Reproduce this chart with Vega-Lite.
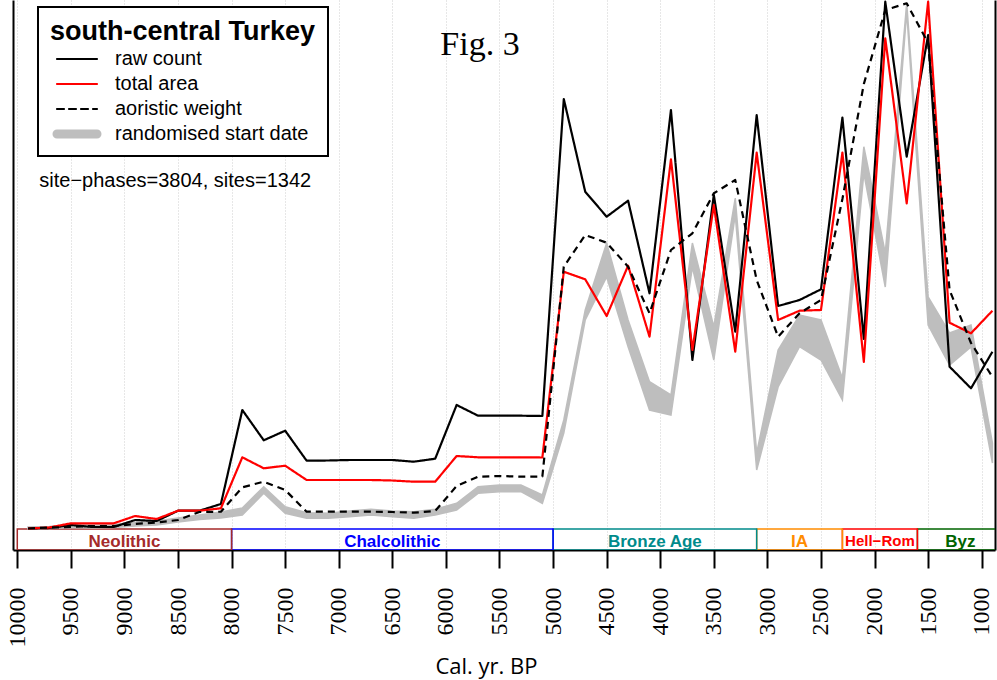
{
  "$schema": "https://vega.github.io/schema/vega-lite/v6.json",
  "width": 982,
  "height": 550,
  "autosize": "none",
  "padding": {"left": 13, "top": 0, "right": 2, "bottom": 130},
  "background": "white",
  "config": {
    "view": {"stroke": null},
    "axisX": {
      "domain": true, "domainColor": "black", "domainWidth": 2,
      "ticks": true, "tickColor": "black", "tickWidth": 2, "tickSize": 18,
      "labelAngle": 270, "labelAlign": "right", "labelBaseline": "middle",
      "labelFont": "Liberation Sans Narrow", "labelFontSize": 24, "labelColor": "black",
      "labelPadding": 19, "labelOverlap": false, "labelFlush": false, "format": "d",
      "grid": true, "gridColor": "#cfcfcf", "gridDash": [1, 2], "gridWidth": 1,
      "titleFont": "Open Sans", "titleFontSize": 22, "titleFontWeight": "normal", "titleColor": "black",
      "titleX": 473, "titleY": 123, "titleBaseline": "alphabetic",
      "zindex": 1
    },
    "axisY": {
      "domain": true, "domainColor": "black", "domainWidth": 2,
      "ticks": false, "labels": false, "grid": false, "zindex": 1
    },
    "legend": {
      "orient": "none", "legendX": 25, "legendY": 7,
      "strokeColor": "black", "fillColor": "white", "strokeWidth": 2,
      "padding": 12,
      "titleFont": "Liberation Sans", "titleFontSize": 27, "titleFontWeight": "bold", "titleColor": "black",
      "titlePadding": 3, "titleLimit": 500,
      "labelFont": "Liberation Sans", "labelFontSize": 20, "labelColor": "black",
      "labelOffset": 28, "labelLimit": 500,
      "symbolType": "M-4,0H4", "symbolSize": 100, "symbolOffset": 17, "rowPadding": 5
    }
  },
  "datasets": {
    "d": [
      {"year": 9900, "raw count": 0.5, "total area": 0.5, "aoristic weight": 0.5, "lo": 0, "hi": 2},
      {"year": 9700, "raw count": 1, "total area": 1.5, "aoristic weight": 1.5, "lo": 0.5, "hi": 2.5},
      {"year": 9500, "raw count": 4, "total area": 5.7, "aoristic weight": 2, "lo": 1.5, "hi": 4.5},
      {"year": 9300, "raw count": 2, "total area": 5.7, "aoristic weight": 3, "lo": 1, "hi": 4},
      {"year": 9100, "raw count": 2, "total area": 5.7, "aoristic weight": 3, "lo": 1.5, "hi": 4.5},
      {"year": 8900, "raw count": 9, "total area": 13, "aoristic weight": 5, "lo": 3, "hi": 6.5},
      {"year": 8700, "raw count": 8, "total area": 10, "aoristic weight": 6.5, "lo": 4, "hi": 8},
      {"year": 8500, "raw count": 18.3, "total area": 18.3, "aoristic weight": 9, "lo": 7, "hi": 11},
      {"year": 8300, "raw count": 18.3, "total area": 18.3, "aoristic weight": 17, "lo": 9.5, "hi": 14},
      {"year": 8100, "raw count": 25, "total area": 20.7, "aoristic weight": 17.3, "lo": 11, "hi": 17},
      {"year": 7900, "raw count": 119, "total area": 71.7, "aoristic weight": 41.7, "lo": 14, "hi": 21},
      {"year": 7700, "raw count": 88.7, "total area": 60.7, "aoristic weight": 47.3, "lo": 35.7, "hi": 42.3},
      {"year": 7500, "raw count": 98.3, "total area": 63.3, "aoristic weight": 39, "lo": 15.7, "hi": 22.3},
      {"year": 7300, "raw count": 68.3, "total area": 49, "aoristic weight": 17.3, "lo": 10.7, "hi": 16.3},
      {"year": 7100, "raw count": 68.5, "total area": 49, "aoristic weight": 17.3, "lo": 10.7, "hi": 15.7},
      {"year": 6900, "raw count": 69, "total area": 49, "aoristic weight": 17.3, "lo": 12.3, "hi": 18},
      {"year": 6700, "raw count": 69, "total area": 49, "aoristic weight": 17.3, "lo": 14, "hi": 19.7},
      {"year": 6500, "raw count": 69, "total area": 48.5, "aoristic weight": 17, "lo": 12.3, "hi": 18},
      {"year": 6300, "raw count": 67.3, "total area": 47.3, "aoristic weight": 16.3, "lo": 10.7, "hi": 17.3},
      {"year": 6100, "raw count": 70.3, "total area": 47.3, "aoristic weight": 18, "lo": 14, "hi": 19.7},
      {"year": 5900, "raw count": 124, "total area": 73, "aoristic weight": 43, "lo": 19, "hi": 25.7},
      {"year": 5700, "raw count": 113.3, "total area": 71.7, "aoristic weight": 52.3, "lo": 35.7, "hi": 42.3},
      {"year": 5500, "raw count": 113.3, "total area": 71.7, "aoristic weight": 53, "lo": 37.3, "hi": 44},
      {"year": 5300, "raw count": 113.3, "total area": 71.7, "aoristic weight": 52.3, "lo": 37.3, "hi": 44},
      {"year": 5100, "raw count": 113, "total area": 71.5, "aoristic weight": 52.5, "lo": 25.7, "hi": 34},
      {"year": 4900, "raw count": 430, "total area": 257.3, "aoristic weight": 262.3, "lo": 96, "hi": 109},
      {"year": 4700, "raw count": 337.3, "total area": 249.7, "aoristic weight": 294, "lo": 209, "hi": 219},
      {"year": 4500, "raw count": 312.3, "total area": 213, "aoristic weight": 286.3, "lo": 252, "hi": 286},
      {"year": 4300, "raw count": 328.3, "total area": 263.3, "aoristic weight": 262.3, "lo": 182.3, "hi": 209},
      {"year": 4100, "raw count": 235.7, "total area": 192.3, "aoristic weight": 215.7, "lo": 119, "hi": 147.3},
      {"year": 3900, "raw count": 419, "total area": 369.7, "aoristic weight": 279, "lo": 114, "hi": 134},
      {"year": 3700, "raw count": 169, "total area": 179, "aoristic weight": 295.7, "lo": 262, "hi": 286},
      {"year": 3500, "raw count": 334, "total area": 324, "aoristic weight": 335.7, "lo": 169, "hi": 202.3},
      {"year": 3300, "raw count": 197.3, "total area": 177.3, "aoristic weight": 349, "lo": 314, "hi": 331},
      {"year": 3100, "raw count": 414, "total area": 376.3, "aoristic weight": 249, "lo": 59, "hi": 76},
      {"year": 2900, "raw count": 223, "total area": 209, "aoristic weight": 192.3, "lo": 142, "hi": 179},
      {"year": 2700, "raw count": 229, "total area": 218.3, "aoristic weight": 215.7, "lo": 182.3, "hi": 214},
      {"year": 2500, "raw count": 239.7, "total area": 219, "aoristic weight": 229, "lo": 169, "hi": 209},
      {"year": 2300, "raw count": 411.5, "total area": 376.5, "aoristic weight": 330, "lo": 129, "hi": 151},
      {"year": 2100, "raw count": 190, "total area": 167, "aoristic weight": 445, "lo": 355.7, "hi": 382.3},
      {"year": 1900, "raw count": 527.3, "total area": 490.7, "aoristic weight": 519, "lo": 242, "hi": 276},
      {"year": 1700, "raw count": 372.3, "total area": 325.7, "aoristic weight": 525.7, "lo": 517, "hi": 526},
      {"year": 1500, "raw count": 494, "total area": 527.3, "aoristic weight": 486, "lo": 204, "hi": 232},
      {"year": 1300, "raw count": 162.3, "total area": 206.3, "aoristic weight": 239, "lo": 164, "hi": 196},
      {"year": 1100, "raw count": 140.7, "total area": 195.7, "aoristic weight": 186, "lo": 182, "hi": 204},
      {"year": 900, "raw count": 177.3, "total area": 218.3, "aoristic weight": 152, "lo": 66, "hi": 86}
    ],
    "periods": [
      {"period": "Byz", "start": 1600, "end": 800},
      {"period": "Hell−Rom", "start": 2300, "end": 1600},
      {"period": "IA", "start": 3100, "end": 2300},
      {"period": "Bronze Age", "start": 5000, "end": 3100},
      {"period": "Chalcolithic", "start": 8000, "end": 5000},
      {"period": "Neolithic", "start": 10000, "end": 8000}
    ],
    "fig": [{"text": "Fig. 3", "year": 5682, "value": 474}],
    "info": [{"text": "site−phases=3804, sites=1342", "year": 9795, "value": 348}]
  },
  "layer": [
    {
      "data": {"name": "periods"},
      "mark": {"type": "rect", "filled": false, "strokeWidth": 1.5, "clip": true},
      "encoding": {
        "x": {"field": "start", "type": "quantitative", "scale": {"domain": [876, 10040], "reverse": true, "nice": false, "zero": false}, "title": "Cal. yr. BP",
              "axis": {"values": [10000, 9500, 9000, 8500, 8000, 7500, 7000, 6500, 6000, 5500, 5000, 4500, 4000, 3500, 3000, 2500, 2000, 1500, 1000]}},
        "x2": {"field": "end"},
        "y": {"datum": 0, "type": "quantitative", "scale": {"domain": [-21, 529], "nice": false, "zero": false}, "title": null, "axis": {"orient": "left"}},
        "y2": {"datum": -21},
        "stroke": {"field": "period", "type": "nominal",
                   "scale": {"domain": ["Neolithic", "Chalcolithic", "Bronze Age", "IA", "Hell−Rom", "Byz"], "range": ["#a52a2a", "#0000ff", "#008b8b", "#ff8c00", "#ff0000", "#006400"]},
                   "legend": null}
      }
    },
    {
      "data": {"name": "d"},
      "mark": {"type": "area", "fill": "#bebebe", "stroke": "#bebebe", "strokeWidth": 1.5, "clip": true},
      "encoding": {
        "x": {"field": "year", "type": "quantitative", "scale": {"domain": [876, 10040], "reverse": true, "nice": false, "zero": false}, "title": "Cal. yr. BP"},
        "y": {"field": "lo", "type": "quantitative", "scale": {"domain": [-21, 529], "nice": false, "zero": false}, "title": null, "axis": {"orient": "right"}},
        "y2": {"field": "hi"}
      }
    },
    {
      "data": {"name": "d"},
      "transform": [{"fold": ["raw count", "total area", "aoristic weight"], "as": ["series", "value"]}],
      "mark": {"type": "line", "clip": true, "strokeJoin": "round"},
      "encoding": {
        "x": {"field": "year", "type": "quantitative", "scale": {"domain": [876, 10040], "reverse": true, "nice": false, "zero": false}, "title": "Cal. yr. BP"},
        "y": {"field": "value", "type": "quantitative", "scale": {"domain": [-21, 529], "nice": false, "zero": false}, "title": null, "axis": null},
        "color": {"field": "series", "type": "nominal", "title": "south-central Turkey",
                  "scale": {"domain": ["raw count", "total area", "aoristic weight", "randomised start date"], "range": ["#000000", "#ff0000", "#000000", "#bebebe"]},
                  "legend": {"encode": {"symbols": {"update": {"strokeJoin": {"value": "round"}, "strokeCap": {"value": "round"}}}}}},
        "strokeDash": {"field": "series", "type": "nominal", "title": "south-central Turkey",
                       "scale": {"domain": ["raw count", "total area", "aoristic weight", "randomised start date"], "range": [[1, 0], [1, 0], [7, 5], [1, 0]]},
                       "legend": {"encode": {"symbols": {"update": {"strokeJoin": {"value": "round"}, "strokeCap": {"value": "round"}}}}}},
        "strokeWidth": {"field": "series", "type": "nominal", "title": "south-central Turkey",
                        "scale": {"type": "ordinal", "domain": ["raw count", "total area", "aoristic weight", "randomised start date"], "range": [2.2, 2.2, 2.2, 9]},
                        "legend": {"encode": {"symbols": {"update": {"strokeJoin": {"value": "round"}, "strokeCap": {"value": "round"}}}}}}
      }
    },
    {
      "data": {"name": "periods"},
      "transform": [{"filter": "datum.period != 'Hell−Rom'"}, {"calculate": "(datum.start + datum.end) / 2", "as": "mid"}],
      "mark": {"type": "text", "font": "Liberation Sans", "fontSize": 17, "fontWeight": "bold", "align": "center", "baseline": "alphabetic"},
      "encoding": {
        "x": {"field": "mid", "type": "quantitative", "scale": {"domain": [876, 10040], "reverse": true, "nice": false, "zero": false}, "title": "Cal. yr. BP"},
        "y": {"datum": -18, "type": "quantitative", "scale": {"domain": [-21, 529], "nice": false, "zero": false}, "axis": null},
        "text": {"field": "period"},
        "fill": {"field": "period", "type": "nominal",
                 "scale": {"domain": ["Neolithic", "Chalcolithic", "Bronze Age", "IA", "Hell−Rom", "Byz"], "range": ["#a52a2a", "#0000ff", "#008b8b", "#ff8c00", "#ff0000", "#006400"]},
                 "legend": null}
      }
    },
    {
      "data": {"name": "periods"},
      "transform": [{"filter": "datum.period == 'Hell−Rom'"}, {"calculate": "(datum.start + datum.end) / 2", "as": "mid"}],
      "mark": {"type": "text", "font": "Liberation Sans", "fontSize": 15, "fontWeight": "bold", "align": "center", "baseline": "alphabetic"},
      "encoding": {
        "x": {"field": "mid", "type": "quantitative", "scale": {"domain": [876, 10040], "reverse": true, "nice": false, "zero": false}, "title": "Cal. yr. BP"},
        "y": {"datum": -17, "type": "quantitative", "scale": {"domain": [-21, 529], "nice": false, "zero": false}, "axis": null},
        "text": {"field": "period"},
        "fill": {"field": "period", "type": "nominal",
                 "scale": {"domain": ["Neolithic", "Chalcolithic", "Bronze Age", "IA", "Hell−Rom", "Byz"], "range": ["#a52a2a", "#0000ff", "#008b8b", "#ff8c00", "#ff0000", "#006400"]},
                 "legend": null}
      }
    },
    {
      "data": {"name": "fig"},
      "mark": {"type": "text", "font": "Liberation Serif", "fontSize": 34, "align": "center", "baseline": "alphabetic", "color": "black"},
      "encoding": {
        "x": {"field": "year", "type": "quantitative", "scale": {"domain": [876, 10040], "reverse": true, "nice": false, "zero": false}, "title": "Cal. yr. BP"},
        "y": {"field": "value", "type": "quantitative", "scale": {"domain": [-21, 529], "nice": false, "zero": false}, "axis": null},
        "text": {"field": "text"}
      }
    },
    {
      "data": {"name": "info"},
      "mark": {"type": "text", "font": "Liberation Sans", "fontSize": 20, "align": "left", "baseline": "middle", "color": "black"},
      "encoding": {
        "x": {"field": "year", "type": "quantitative", "scale": {"domain": [876, 10040], "reverse": true, "nice": false, "zero": false}, "title": "Cal. yr. BP"},
        "y": {"field": "value", "type": "quantitative", "scale": {"domain": [-21, 529], "nice": false, "zero": false}, "axis": null},
        "text": {"field": "text"}
      }
    }
  ],
  "resolve": {"axis": {"y": "independent"}}
}
